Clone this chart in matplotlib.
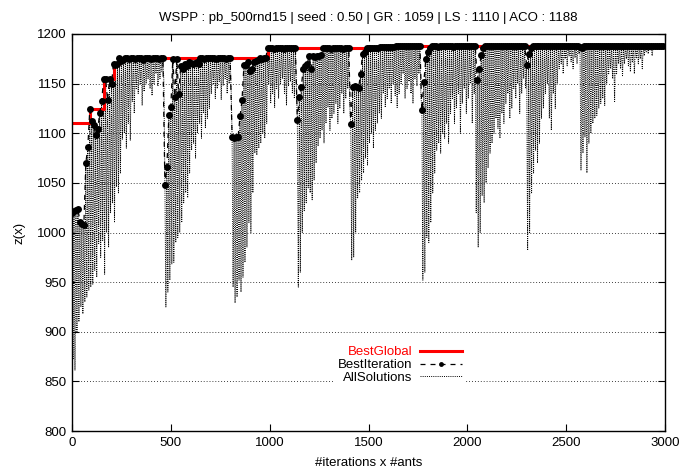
import matplotlib
matplotlib.use("Agg")
import matplotlib.pyplot as plt
import numpy as np

plt.rcParams["font.family"] = ["Liberation Sans", "DejaVu Sans"]
plt.rcParams["font.size"] = 9.5

TITLE = "WSPP : pb_500rnd15 | seed : 0.50 | GR : 1059 | LS : 1110 | ACO : 1188"
STEP = 10  # ants per iteration

# best global value, step changes (x, z)
global_x = [0, 90, 160, 210, 240, 990, 1560, 1640, 3000]
global_z = [1110, 1124, 1155, 1170, 1176, 1186, 1187, 1188, 1188]

# best solution of every iteration
best_iter = [
    1020, 1022, 1023, 1024, 1011, 1009, 1008, 1070, 1086, 1124,
    1112, 1108, 1098, 1104, 1120, 1132, 1155, 1155, 1133, 1155,
    1150, 1170, 1169, 1170, 1176, 1173, 1174, 1176, 1176, 1175,
    1176, 1176, 1175, 1176, 1176, 1176, 1174, 1176, 1176, 1176,
    1175, 1176, 1176, 1176, 1175, 1176, 1176, 1048, 1066, 1118,
    1126, 1175, 1137, 1175, 1140, 1168, 1165, 1170, 1168, 1172,
    1171, 1170, 1171, 1172, 1170, 1176, 1176, 1175, 1176, 1176,
    1176, 1176, 1176, 1175, 1176, 1176, 1176, 1176, 1175, 1176,
    1176, 1096, 1095, 1096, 1096, 1117, 1133, 1169, 1169, 1172,
    1163, 1165, 1172, 1173, 1174, 1176, 1175, 1176, 1176, 1186,
    1186, 1186, 1185, 1186, 1186, 1186, 1186, 1185, 1186, 1186,
    1186, 1186, 1186, 1186, 1113, 1137, 1147, 1165, 1168, 1170,
    1178, 1165, 1178, 1177, 1178, 1178, 1179, 1186, 1186, 1186,
    1186, 1185, 1186, 1186, 1186, 1186, 1186, 1185, 1186, 1186,
    1186, 1109, 1147, 1148, 1147, 1146, 1160, 1180, 1182, 1186,
    1186, 1186, 1186, 1186, 1186, 1186, 1187, 1187, 1187, 1187,
    1187, 1187, 1187, 1187, 1188, 1188, 1188, 1188, 1188, 1188,
    1188, 1188, 1188, 1188, 1188, 1188, 1188, 1123, 1152, 1175,
    1182, 1186, 1188, 1188, 1188, 1187, 1188, 1188, 1188, 1188,
    1188, 1188, 1188, 1187, 1188, 1188, 1188, 1188, 1188, 1188,
    1188, 1188, 1188, 1188, 1188, 1154, 1165, 1179, 1186, 1188,
    1188, 1188, 1188, 1188, 1188, 1188, 1188, 1188, 1188, 1188,
    1188, 1188, 1188, 1188, 1188, 1188, 1188, 1188, 1188, 1188,
    1169, 1180, 1186, 1188, 1188, 1188, 1188, 1188, 1188, 1188,
    1188, 1188, 1188, 1188, 1188, 1188, 1188, 1188, 1188, 1188,
    1188, 1188, 1188, 1188, 1188, 1188, 1188, 1187, 1186, 1188,
    1188, 1188, 1188, 1188, 1188, 1188, 1188, 1188, 1188, 1188,
    1188, 1188, 1188, 1188, 1188, 1188, 1188, 1188, 1188, 1188,
    1188, 1188, 1188, 1188, 1188, 1188, 1188, 1188, 1188, 1188,
    1188, 1188, 1188, 1188, 1188, 1188, 1188, 1188, 1188, 1188,
]

# worst solution of every iteration
worst_iter = [
    872, 861, 900, 910, 925, 918, 930, 935, 942, 945,
    948, 962, 955, 989, 975, 992, 958, 1000, 985, 1020,
    1030, 1010, 1046, 1040, 1060, 1094, 1100, 1085, 1110, 1093,
    1132, 1120, 1145, 1140, 1150, 1128, 1142, 1150, 1155, 1145,
    1138, 1150, 1160, 1148, 1155, 1162, 1150, 925, 940, 952,
    968, 970, 990, 995, 1000, 1010, 1030, 1040, 1035, 1060,
    1083, 1090, 1075, 1100, 1110, 1095, 1120, 1105, 1115, 1125,
    1140, 1150, 1135, 1145, 1152, 1134, 1148, 1155, 1140, 1150,
    1145, 945, 929, 935, 952, 940, 955, 970, 985, 1010,
    1000, 1040, 1080, 1078, 1085, 1090, 1100, 1095, 1110, 1150,
    1130, 1140, 1126, 1145, 1135, 1150, 1155, 1140, 1128, 1148,
    1152, 1140, 1135, 1150, 945, 960, 1000, 1022, 1030, 1045,
    1040, 1033, 1053, 1070, 1087, 1095, 1103, 1090, 1110, 1126,
    1103, 1115, 1120, 1130, 1110, 1125, 1140, 1120, 1135, 1145,
    1130, 972, 975, 1000, 1035, 1040, 1053, 1060, 1075, 1068,
    1090, 1100, 1085, 1103, 1110, 1120, 1115, 1140, 1126, 1135,
    1145, 1130, 1150, 1138, 1126, 1140, 1150, 1160, 1135, 1145,
    1152, 1140, 1130, 1155, 1148, 1160, 1140, 952, 960, 995,
    990, 1010, 1040, 1060, 1083, 1090, 1080, 1100, 1095, 1110,
    1090, 1120, 1135, 1110, 1125, 1140, 1100, 1130, 1145, 1120,
    1135, 1150, 1110, 1140, 1020, 985, 1000, 1037, 1030, 1050,
    1065, 1080, 1090, 1100, 1115, 1105, 1095, 1120, 1110, 1130,
    1140, 1115, 1125, 1145, 1135, 1150, 1120, 1140, 1155, 1145,
    982, 1000, 1040, 1060, 1083, 1070, 1090, 1115, 1125, 1140,
    1150, 1115, 1103, 1140, 1125, 1150, 1165, 1170, 1160, 1175,
    1168, 1178, 1172, 1165, 1176, 1170, 1180, 1063, 1080, 1096,
    1060, 1090, 1100, 1110, 1115, 1118, 1125, 1130, 1135, 1128,
    1150, 1160, 1165, 1155, 1132, 1160, 1170, 1165, 1158, 1170,
    1175, 1168, 1162, 1172, 1160, 1176, 1170, 1175, 1165, 1178,
    1182, 1180, 1184, 1178, 1186, 1185, 1186, 1187, 1186, 1188,
]

n = len(best_iter)
iter_x = np.arange(n) * STEP
# all solutions: each iteration runs from its best down to its worst ant
all_x = np.empty(2 * n)
all_x[0::2] = iter_x
all_x[1::2] = iter_x + STEP / 2
all_z = np.empty(2 * n)
all_z[0::2] = best_iter
all_z[1::2] = worst_iter

fig = plt.figure(figsize=(6.79, 4.74), dpi=100)
ax = fig.add_axes([72 / 679, 43 / 474, 593 / 679, 397 / 474])

l_all, = ax.plot(all_x, all_z, color="black", lw=0.7,
                 linestyle=(0, (1, 1.2)), label="AllSolutions", zorder=1)
l_glob, = ax.plot(global_x, global_z, color="#ff0000", lw=2.2,
                  drawstyle="steps-post", label="BestGlobal", zorder=2)
l_best, = ax.plot(iter_x, best_iter, color="black", lw=0.9,
                  linestyle=(0, (4, 4)), marker="o", markersize=5,
                  markeredgewidth=0, label="BestIteration", zorder=3)

ax.set_xlim(0, 3000)
ax.set_ylim(800, 1200)
ax.set_xticks(np.arange(0, 3001, 500))
ax.set_yticks(np.arange(800, 1201, 50))
ax.tick_params(direction="in", top=True, right=True, length=5, width=0.8,
               labelsize=9.5, pad=4)
for s in ax.spines.values():
    s.set_linewidth(1.0)
ax.yaxis.grid(True, color="black", lw=0.6, linestyle=(0, (1, 2.5)))
ax.set_axisbelow(True)

ax.set_xlabel("#iterations x #ants", labelpad=6)
ax.set_ylabel("z(x)", labelpad=8)
ax.set_title(TITLE, fontsize=9.5, pad=9)

leg = ax.legend(handles=[l_glob, l_best, l_all], loc="center",
                bbox_to_anchor=(0.553, 0.166), markerfirst=False,
                frameon=True, facecolor="white", edgecolor="none",
                framealpha=1, fancybox=False, handlelength=3.2,
                labelspacing=0.05, handletextpad=0.6, borderpad=0.2,
                markerscale=0.7, fontsize=9.5)
leg.get_texts()[0].set_color("#ff0000")
leg.set_zorder(5)

fig.savefig("out.png", dpi=100)
